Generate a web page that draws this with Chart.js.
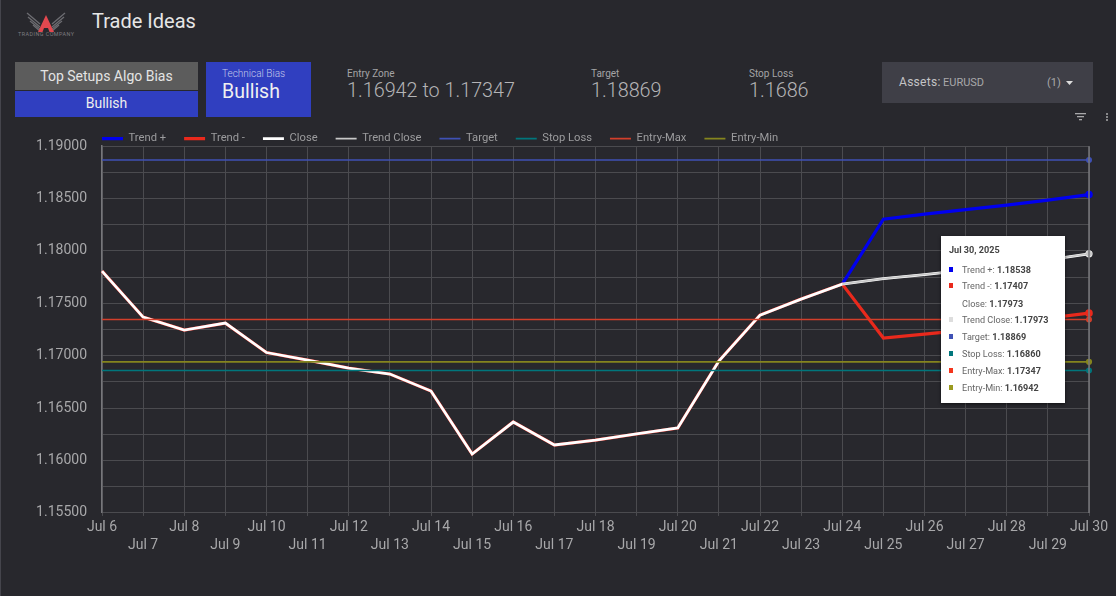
<!DOCTYPE html>
<html>
<head>
<meta charset="utf-8">
<title>Trade Ideas</title>
<script src="https://cdn.jsdelivr.net/npm/chart.js@4"></script>
<style>
  html, body { margin: 0; padding: 0; background: #28282d; width: 1116px; height: 596px; overflow: hidden; }
  body { font-family: Roboto, sans-serif; position: relative; color: #b4b4b6; }
  .abs { position: absolute; white-space: nowrap; }
  .edge { left: 0; top: 0; width: 1px; height: 596px; background: #45454c; }
  .title { left: 92px; top: 9px; font-size: 20px; line-height: 24px; color: #e6e6e6; }
  .boxGrey { left: 15px; top: 62px; width: 183px; height: 28px; background: #5c5c5c; color: #e4e4e4; font-size: 14px; line-height: 28px; text-align: center; }
  .boxBlue { left: 15px; top: 91px; width: 183px; height: 26px; background: #303fc0; color: #eee; font-size: 14px; line-height: 25px; text-align: center; }
  .boxTech { left: 206px; top: 62px; width: 105px; height: 55px; background: #303fc0; }
  .boxTech .lbl { position: absolute; left: 16px; top: 6px; font-size: 10px; line-height: 12px; color: #c4c9ea; font-weight: 300; }
  .boxTech .val { position: absolute; left: 16px; top: 18px; font-size: 19.5px; line-height: 24px; color: #f0f0f0; font-weight: 400; }
  .lbl { font-size: 10px; line-height: 12px; color: #a4a4a6; }
  .val { font-size: 19.8px; line-height: 24px; color: #b4b4b6; font-weight: 300; }
  .assets { left: 882px; top: 62px; width: 211px; height: 41px; background: #3f3f47; font-size: 12px; line-height: 41px; }
  .assets span { position: absolute; }
  #wrap { position: absolute; left: 0; top: 104px; width: 1116px; height: 471px; }
  #tip { position: absolute; background: #fff; box-shadow: 0 1px 3px rgba(0,0,0,.6); color: #666; font-size: 9.1px; }
  #tip div { position: absolute; white-space: nowrap; }
  #tip b { color: #444; font-weight: 700; }
  #tip i { position: absolute; width: 4px; height: 5px; }
</style>
</head>
<body>
<div class="abs edge"></div>

<svg class="abs" style="left:16px;top:11px" width="60" height="28" viewBox="0 0 60 28">
  <g stroke="#6d6d72" stroke-width="1.3" fill="none">
    <path d="M11 2 L24 13"/><path d="M12 6 L24 16"/><path d="M14 10 L24 18"/><path d="M17 14 L24 20"/>
    <path d="M49 2 L36 13"/><path d="M48 6 L36 16"/><path d="M46 10 L36 18"/><path d="M43 14 L36 20"/>
  </g>
  <path d="M30 4 L38 21 L33.5 21 L32 17 L28 17 L26.5 21 L22 21 Z" fill="#e2484f"/>
  <text x="2" y="25" textLength="56" font-family="Roboto" font-size="5.4" fill="#7c7c80">TRADING COMPANY</text>
</svg>

<div class="abs title">Trade Ideas</div>
<div class="abs boxGrey">Top Setups Algo Bias</div>
<div class="abs boxBlue">Bullish</div>
<div class="abs boxTech"><span class="lbl">Technical Bias</span><span class="val">Bullish</span></div>

<div class="abs lbl" style="left:347px;top:68px">Entry Zone</div>
<div class="abs val" style="left:347px;top:79px">1.16942 to 1.17347</div>
<div class="abs lbl" style="left:591px;top:68px">Target</div>
<div class="abs val" style="left:591px;top:79px">1.18869</div>
<div class="abs lbl" style="left:749px;top:68px">Stop Loss</div>
<div class="abs val" style="left:749px;top:79px">1.1686</div>

<div class="abs assets">
  <span style="left:17px;color:#c4c4c6;letter-spacing:.3px">Assets:</span>
  <span style="left:61px;font-size:11px;color:#a8a8aa">EURUSD</span>
  <span style="left:165px;font-size:11px;color:#a8a8aa">(1)</span>
  <svg style="position:absolute;left:184px;top:19px" width="7" height="4"><path d="M0 0 L7 0 L3.5 4 Z" fill="#ddd"/></svg>
</div>

<svg class="abs" style="left:1075px;top:112px" width="36" height="11">
  <g fill="#a8a8aa">
    <rect x="0" y="1" width="11" height="1.3"/><rect x="2" y="4" width="7" height="1.3"/><rect x="4" y="7" width="3" height="1.3"/>
    <circle cx="32" cy="2" r="1"/><circle cx="32" cy="5" r="1"/><circle cx="32" cy="8" r="1"/>
  </g>
</svg>

<div id="wrap"><canvas id="chart"></canvas></div>
<div id="tip" class="abs"></div>

<script>
const dates = ['Jul 6', 'Jul 7', 'Jul 8', 'Jul 9', 'Jul 10', 'Jul 11', 'Jul 12', 'Jul 13', 'Jul 14', 'Jul 15',
  'Jul 16', 'Jul 17', 'Jul 18', 'Jul 19', 'Jul 20', 'Jul 21', 'Jul 22', 'Jul 23', 'Jul 24', 'Jul 25',
  'Jul 26', 'Jul 27', 'Jul 28', 'Jul 29', 'Jul 30'];

const closeValues = [1.17808, 1.17369, 1.17245, 1.17312, 1.17031, 1.16959, 1.16883, 1.16826, 1.16664, 1.16063,
  1.16368, 1.16149, 1.16196, 1.16254, 1.16311, 1.16950, 1.17388, 1.17541, 1.17684, 1.17736,
  1.17775, 1.17817, 1.17860, 1.17915, 1.17973];
const trendClose = [null, null, null, null, null, null, null, null, null, null,
  null, null, null, null, null, null, null, null, 1.17684, 1.17736,
  1.17775, 1.17817, 1.17860, 1.17915, 1.17973];
const trendPlus = [null, null, null, null, null, null, null, null, null, null,
  null, null, null, null, null, null, null, null, 1.17684, 1.18304,
  1.18352, 1.18394, 1.18437, 1.18485, 1.18538];
// red line runs under the white close line up to Jul 24, that's the pink fringe
const trendMinus = [1.17808, 1.17369, 1.17245, 1.17312, 1.17031, 1.16959, 1.16883, 1.16826, 1.16664, 1.16063,
  1.16368, 1.16149, 1.16196, 1.16254, 1.16311, 1.16950, 1.17388, 1.17541, 1.17684, 1.17169,
  1.17207, 1.17245, 1.17310, 1.17360, 1.17407];
const target = [1.18869, 1.18869, 1.18869, 1.18869, 1.18869, 1.18869, 1.18869, 1.18869, 1.18869, 1.18869,
  1.18869, 1.18869, 1.18869, 1.18869, 1.18869, 1.18869, 1.18869, 1.18869, 1.18869, 1.18869,
  1.18869, 1.18869, 1.18869, 1.18869, 1.18869];
const stopLoss = [1.16860, 1.16860, 1.16860, 1.16860, 1.16860, 1.16860, 1.16860, 1.16860, 1.16860, 1.16860,
  1.16860, 1.16860, 1.16860, 1.16860, 1.16860, 1.16860, 1.16860, 1.16860, 1.16860, 1.16860,
  1.16860, 1.16860, 1.16860, 1.16860, 1.16860];
const entryMax = [1.17347, 1.17347, 1.17347, 1.17347, 1.17347, 1.17347, 1.17347, 1.17347, 1.17347, 1.17347,
  1.17347, 1.17347, 1.17347, 1.17347, 1.17347, 1.17347, 1.17347, 1.17347, 1.17347, 1.17347,
  1.17347, 1.17347, 1.17347, 1.17347, 1.17347];
const entryMin = [1.16942, 1.16942, 1.16942, 1.16942, 1.16942, 1.16942, 1.16942, 1.16942, 1.16942, 1.16942,
  1.16942, 1.16942, 1.16942, 1.16942, 1.16942, 1.16942, 1.16942, 1.16942, 1.16942, 1.16942,
  1.16942, 1.16942, 1.16942, 1.16942, 1.16942];

const lastIdx = dates.length - 1;

function series(label, data, color, width, order, tipColor) {
  return {
    label: label,
    data: data,
    borderColor: color,
    backgroundColor: color,
    borderWidth: width,
    order: order,
    tipColor: tipColor || color,
    tension: 0,
    clip: false,
    spanGaps: false,
    pointRadius: function(c) { return c.dataIndex === lastIdx ? 2.2 : 0; },
    pointBackgroundColor: color,
    pointBorderColor: color
  };
}

// vertical hover line at the last date
const crosshair = {
  id: 'crosshair',
  afterDatasetsDraw: function(chart) {
    const x = chart.scales.x.getPixelForValue(lastIdx);
    const area = chart.chartArea;
    const ctx = chart.ctx;
    ctx.save();
    ctx.strokeStyle = '#77777b';
    ctx.lineWidth = 1.5;
    ctx.beginPath();
    ctx.moveTo(x, area.top);
    ctx.lineTo(x, area.bottom);
    ctx.stroke();
    ctx.restore();
  },
  afterLayout: function(chart) {
    // legend starts flush with the plot and sits right on top of it
    chart.legend.left -= 18;
    chart.legend.top += 8;
  }
};

const chart = new Chart(document.getElementById('chart').getContext('2d'), {
  type: 'line',
  data: {
    labels: dates,
    datasets: [
      series('Trend +', trendPlus, '#0000ee', 3.2, 6),
      series('Trend -', trendMinus, '#e9291c', 3.2, 5),
      series('Close', closeValues, '#ffffff', 2.8, 4),
      series('Trend Close', trendClose, '#c8c8c8', 1.6, 3, '#dddddd'),
      series('Target', target, '#3f51b5', 1.6, 2),
      series('Stop Loss', stopLoss, '#00767c', 1.6, 2),
      series('Entry-Max', entryMax, '#d23f2b', 1.6, 2, '#f4351c'),
      series('Entry-Min', entryMin, '#85851e', 1.8, 2, '#9a9a1f')
    ]
  },
  plugins: [crosshair],
  options: {
    responsive: true,
    maintainAspectRatio: false,
    animation: false,
    events: [],
    layout: { padding: { left: 0, right: 27, top: 3, bottom: 17 } },
    plugins: {
      tooltip: { enabled: false },
      legend: {
        position: 'top',
        align: 'start',
        fullSize: false,
        labels: {
          boxWidth: 21,
          boxHeight: 0,
          padding: 18,
          color: '#9c9c9e',
          font: { family: 'Roboto', size: 11.2 },
          sort: function(a, b) { return a.datasetIndex - b.datasetIndex; }
        }
      }
    },
    scales: {
      x: {
        offset: false,
        grid: { color: '#4b4b4f', lineWidth: 1, tickLength: 3 },
        border: { color: '#4b4b4f' },
        ticks: {
          color: '#a8a8aa',
          font: { family: 'Roboto', size: 14, lineHeight: 1.286 },
          maxRotation: 0,
          autoSkip: false,
          padding: 3,
          callback: function(v, i) { return i % 2 ? ['', dates[i]] : [dates[i], '']; }
        }
      },
      y: {
        min: 1.155,
        max: 1.19,
        afterFit: function(s) { s.width = 102; },
        grid: { color: '#4b4b4f', lineWidth: 1, drawTicks: false },
        border: { color: '#77777b', width: 1.5 },
        ticks: {
          stepSize: 0.0025,
          autoSkip: false,
          color: '#a8a8aa',
          padding: 15,
          font: { family: 'Roboto', size: 14 },
          callback: function(v) {
            return Math.round(v * 10000) % 50 === 0 ? Number(v).toFixed(5) : '';
          }
        }
      }
    }
  }
});

// tooltip as it was photographed, open on the last date
function drawTip() {
  const tip = document.getElementById('tip');
  tip.style.cssText = 'left:941px;top:236px;width:124px;height:167px';
  let html = '<div style="left:8px;top:8px;line-height:12px"><b>Jul 30, 2025</b></div>';
  const rowTops = [28, 44, 62, 78, 95, 112, 129, 146];
  chart.data.datasets.forEach(function(ds, i) {
    const swatch = ds.label === 'Close' ? '#ffffff' : ds.tipColor;
    html += '<i style="left:8px;top:' + (rowTops[i] + 3) + 'px;background:' + swatch + '"></i>';
    html += '<div style="left:21px;top:' + rowTops[i] + 'px;line-height:12px">' + ds.label + ': <b>' + ds.data[lastIdx].toFixed(5) + '</b></div>';
  });
  tip.innerHTML = html;
}
drawTip();
</script>
</body>
</html>
